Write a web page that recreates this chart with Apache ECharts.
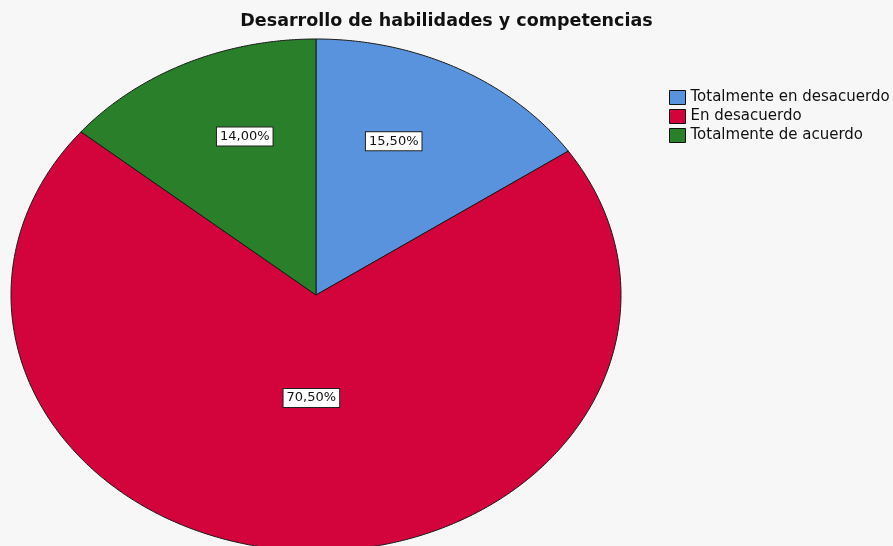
<!DOCTYPE html>
<html>
<head>
<meta charset="utf-8">
<script src="https://cdn.jsdelivr.net/npm/echarts@6/dist/echarts.min.js"></script>
<style>
  html, body { margin: 0; padding: 0; background: #f7f7f7; }
  #chart { width: 893px; height: 546px; }
</style>
</head>
<body>
<div id="chart"></div>
<script>
const categories = ['Totalmente en desacuerdo', 'En desacuerdo', 'Totalmente de acuerdo']
const percents = [15.5, 70.5, 14.0]
const colors = ['#5a93dd', '#d3043b', '#2a7f2a']

const total = percents.reduce((a, b) => a + b, 0)

// elliptical pie (SPSS style)
const cx = 316, cy = 295, rx = 305, ry = 256

function fmt(v) {
  return v.toFixed(2).replace('.', ',') + '%'
}

function renderSlice(idx) {
  return function (params, api) {
    let start = 0
    for (let k = 0; k < idx; k++) start += percents[k]
    const v = api.value(0)
    const a0 = start / total * Math.PI * 2
    const a1 = (start + v) / total * Math.PI * 2
    const pts = [[cx, cy]]
    const steps = Math.max(8, Math.ceil((a1 - a0) / 0.01))
    for (let s = 0; s <= steps; s++) {
      const a = a0 + (a1 - a0) * s / steps
      pts.push([cx + rx * Math.sin(a), cy - ry * Math.cos(a)])
    }
    // label near slice centroid
    const h = (a1 - a0) / 2
    const am = a0 + h
    let f = (2 / 3) * Math.sin(h) / h
    if (f < 0.38) f = 0.38
    const lx = cx + rx * 0.85 * f * Math.sin(am)
    const ly = cy - ry * 1.06 * f * Math.cos(am)
    return {
      type: 'group',
      children: [{
        type: 'polygon',
        shape: { points: pts },
        style: { fill: colors[idx], stroke: '#1a1a1a', lineWidth: 1 }
      }, {
        type: 'text',
        x: lx,
        y: ly,
        style: {
          text: fmt(v),
          font: '13px "DejaVu Sans", Verdana, sans-serif',
          fill: '#111',
          align: 'center',
          verticalAlign: 'middle',
          backgroundColor: '#fff',
          borderColor: '#222',
          borderWidth: 1,
          padding: [3, 3, 2, 3]
        }
      }]
    }
  }
}

const series = categories.map((name, i) => ({
  name: name,
  type: 'custom',
  coordinateSystem: 'none',
  itemStyle: { color: colors[i] },
  renderItem: renderSlice(i),
  data: [[percents[i]]],
  animation: false
}))

const chart = echarts.init(document.getElementById('chart'))
chart.setOption({
  backgroundColor: '#f7f7f7',
  color: colors,
  title: {
    text: 'Desarrollo de habilidades y competencias',
    left: 'center',
    top: 7,
    textStyle: {
      fontFamily: '"DejaVu Sans", Verdana, sans-serif',
      fontSize: 17.5,
      fontWeight: 'bold',
      color: '#111'
    }
  },
  legend: {
    orient: 'vertical',
    left: 669,
    top: 90,
    padding: 0,
    icon: 'rect',
    itemWidth: 16,
    itemHeight: 14,
    itemGap: 4,
    itemStyle: { borderColor: '#111', borderWidth: 1 },
    textStyle: {
      fontFamily: '"DejaVu Sans", Verdana, sans-serif',
      fontSize: 15,
      color: '#111'
    },
    data: categories
  },
  series: series
})
</script>
</body>
</html>
